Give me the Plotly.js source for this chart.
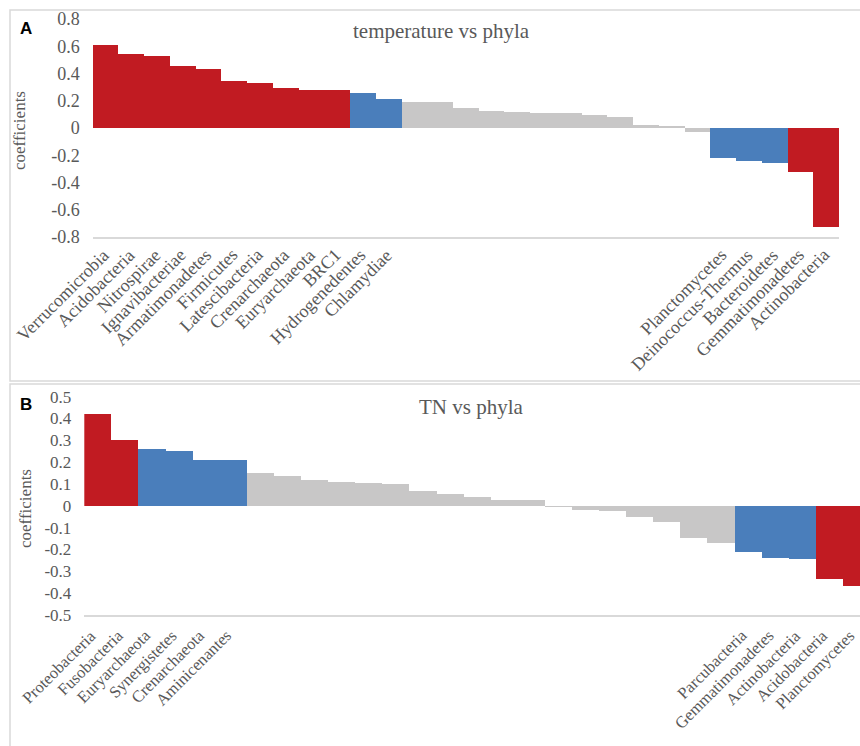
<!DOCTYPE html>
<html>
<head>
<meta charset="utf-8">
<script src="https://cdn.plot.ly/plotly-3.0.1.min.js"></script>
<style>
html,body{margin:0;padding:0;background:#fff;}
#chart{width:860px;height:746px;}
</style>
</head>
<body>
<div id="chart"></div>
<script>
// ---------- Panel A: temperature vs phyla ----------
var phylaA = ["Verrucomicrobia","Acidobacteria","Nitrospirae","Ignavibacteriae","Armatimonadetes",
  "Firmicutes","Latescibacteria","Crenarchaeota","Euryarchaeota","BRC1","Hydrogenedentes","Chlamydiae",
  "","","","","","","","","","","","",
  "Planctomycetes","Deinococcus-Thermus","Bacteroidetes","Gemmatimonadetes","Actinobacteria"];
var coefA = [0.61,0.54,0.53,0.455,0.43,0.345,0.33,0.29,0.28,0.28,0.255,0.21,
  0.192,0.19,0.145,0.122,0.118,0.113,0.108,0.094,0.082,0.025,0.018,-0.03,
  -0.22,-0.24,-0.255,-0.325,-0.725];
var groupA = ["strong","strong","strong","strong","strong","strong","strong","strong","strong","strong","moderate","moderate",
  "weak","weak","weak","weak","weak","weak","weak","weak","weak","weak","weak","weak",
  "moderate","moderate","moderate","strong","strong"];
var yTicksA = [0.8,0.6,0.4,0.2,0,-0.2,-0.4,-0.6,-0.8];
var yTickTextA = ["0.8","0.6","0.4","0.2","0","-0.2","-0.4","-0.6","-0.8"];

// ---------- Panel B: TN vs phyla ----------
var phylaB = ["Proteobacteria","Fusobacteria","Euryarchaeota","Synergistetes","Crenarchaeota","Aminicenantes",
  "","","","","","","","","","","","","","","","","","",
  "Parcubacteria","Gemmatimonadetes","Actinobacteria","Acidobacteria","Planctomycetes"];
var coefB = [0.423,0.30,0.259,0.253,0.212,0.209,
  0.15,0.138,0.117,0.109,0.106,0.099,0.066,0.056,0.04,0.028,0.025,-0.005,-0.017,-0.024,-0.051,-0.074,-0.148,-0.169,
  -0.212,-0.238,-0.242,-0.337,-0.368];
var groupB = ["strong","strong","moderate","moderate","moderate","moderate",
  "weak","weak","weak","weak","weak","weak","weak","weak","weak","weak","weak","weak","weak","weak","weak","weak","weak","weak",
  "moderate","moderate","moderate","strong","strong"];
var yTicksB = [0.5,0.4,0.3,0.2,0.1,0,-0.1,-0.2,-0.3,-0.4,-0.5];
var yTickTextB = ["0.5","0.4","0.3","0.2","0.1","0","-0.1","-0.2","-0.3","-0.4","-0.5"];

// ---------- styling ----------
var W = 860, H = 746;
var colorMap = {strong:"#C11B22", moderate:"#4A7EBB", weak:"#C8C7C7"};
var serif = "Liberation Serif, Times New Roman, serif";
var grey = "#595959";
function px(x){return x/W;}
function py(y){return 1 - y/H;}
function idx(a){return a.map(function(_,i){return i;});}

var traceA = {type:"bar", x:idx(coefA), y:coefA, xaxis:"x", yaxis:"y",
  marker:{color:groupA.map(function(g){return colorMap[g];}), line:{width:0}},
  hoverinfo:"skip", showlegend:false};
var traceB = {type:"bar", x:idx(coefB), y:coefB, xaxis:"x2", yaxis:"y2",
  marker:{color:groupB.map(function(g){return colorMap[g];}), line:{width:0}},
  hoverinfo:"skip", showlegend:false};

var xCommon = {showgrid:false, zeroline:false, showline:true, linecolor:"#D9D9D9", linewidth:1.5,
  ticks:"", showticklabels:false, fixedrange:true};
var yCommon = {showgrid:false, zeroline:false, showline:false, ticks:"",
  ticklabelstandoff:12, fixedrange:true, tickmode:"array"};

// category labels, placed along the rotated axis via the axis scale
function catLabels(names, xref, yTopPx, shiftPx, size){
  var out = [];
  names.forEach(function(n, i){
    if(!n) return;
    out.push({text:n, xref:xref, yref:"paper", x:i, xshift:shiftPx, y:py(yTopPx),
      xanchor:"right", yanchor:"top", textangle:-45, showarrow:false,
      font:{family:serif, size:size, color:grey}});
  });
  return out;
}

var annotations = [
  {text:"<b>A</b>", xref:"paper", yref:"paper", x:px(26), y:py(28), xanchor:"center", yanchor:"middle", showarrow:false,
   font:{family:"Liberation Sans, Arial, sans-serif", size:17, color:"#000"}},
  {text:"<b>B</b>", xref:"paper", yref:"paper", x:px(26), y:py(404), xanchor:"center", yanchor:"middle", showarrow:false,
   font:{family:"Liberation Sans, Arial, sans-serif", size:17, color:"#000"}},
  {text:"temperature vs phyla", xref:"paper", yref:"paper", x:px(441), y:py(31), xanchor:"center", yanchor:"middle", showarrow:false,
   font:{family:serif, size:21, color:grey}},
  {text:"TN vs phyla", xref:"paper", yref:"paper", x:px(471), y:py(407), xanchor:"center", yanchor:"middle", showarrow:false,
   font:{family:serif, size:21, color:grey}},
  {text:"coefficients", xref:"paper", yref:"paper", x:px(19), y:py(131), xanchor:"center", yanchor:"middle", showarrow:false, textangle:-90,
   font:{family:serif, size:17, color:grey}},
  {text:"coefficients", xref:"paper", yref:"paper", x:px(25), y:py(509), xanchor:"center", yanchor:"middle", showarrow:false, textangle:-90,
   font:{family:serif, size:17, color:grey}}
].concat(catLabels(phylaA, "x", 242, 10, 18))
 .concat(catLabels(phylaB, "x2", 623, 5, 16.5));

var layout = {
  width:W, height:H, margin:{l:0,r:0,t:0,b:0},
  paper_bgcolor:"#fff", plot_bgcolor:"rgba(0,0,0,0)",
  bargap:0, showlegend:false,
  xaxis: Object.assign({}, xCommon, {domain:[px(92.7), px(839)], range:[-0.5,28.5], anchor:"y"}),
  yaxis: Object.assign({}, yCommon, {domain:[py(237), py(19)], range:[-0.8,0.8], anchor:"x",
    tickvals:yTicksA, ticktext:yTickTextA, tickfont:{family:serif, size:18, color:grey}}),
  xaxis2: Object.assign({}, xCommon, {domain:[px(84.3), 1], range:[-0.5,28.13], anchor:"y2"}),
  yaxis2: Object.assign({}, yCommon, {domain:[py(615), py(396.7)], range:[-0.5,0.5], anchor:"x2",
    tickvals:yTicksB, ticktext:yTickTextB, tickfont:{family:serif, size:17, color:grey}}),
  shapes:[
    {type:"rect", xref:"paper", yref:"paper", x0:px(10), x1:px(900), y0:py(381), y1:py(10),
     line:{color:"#D9D9D9", width:1.5}, layer:"below"},
    {type:"rect", xref:"paper", yref:"paper", x0:px(10), x1:px(900), y0:py(820), y1:py(384),
     line:{color:"#D9D9D9", width:1.5}, layer:"below"}
  ],
  annotations: annotations
};

Plotly.newPlot("chart", [traceA, traceB], layout, {staticPlot:true, displayModeBar:false});
</script>
</body>
</html>
